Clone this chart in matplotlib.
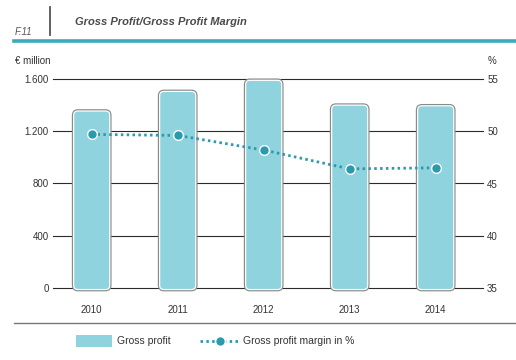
import matplotlib
matplotlib.use("Agg")
import matplotlib.pyplot as plt
from matplotlib.patches import FancyBboxPatch, Rectangle
from matplotlib.lines import Line2D
import matplotlib.patheffects as pe

plt.rcParams['font.family'] = ['Liberation Sans', 'DejaVu Sans']

years = ["2010", "2011", "2012", "2013", "2014"]
gross_profit = [1355, 1505, 1590, 1400, 1395]
gross_margin = [49.7, 49.6, 48.2, 46.4, 46.5]
left_ticks = [0, 400, 800, 1200, 1600]
left_labels = ["0", "400", "800", "1.200", "1.600"]
right_ticks = [35, 40, 45, 50, 55]

BAR = '#8fd3df'
TEAL = '#2a9bad'
TXT = '#333333'

fig = plt.figure(figsize=(5.16, 3.6), dpi=100)
W, H = 516, 360
ax = fig.add_axes([53 / W, 72 / H, 430 / W, 209 / H])
x = list(range(len(years)))
ax.set_xlim(-0.45, 4.55)
ax.set_ylim(0, 1600)

for t in left_ticks:
    ax.axhline(t, color='#2b2b2b', lw=0.8, zorder=0, clip_on=False)

bars = ax.bar(x, gross_profit, width=0.42, color='none', edgecolor='none')
fig.canvas.draw()
p0 = ax.transData.transform((0, 0))
p1 = ax.transData.transform((1, 1))
aspect = (p1[0] - p0[0]) / (p1[1] - p0[1])
for b in bars:
    fb = FancyBboxPatch((b.get_x(), b.get_y() - 12), b.get_width(), b.get_height() + 12,
                        boxstyle="round,pad=0,rounding_size=0.05",
                        mutation_aspect=aspect,
                        facecolor=BAR, edgecolor='white', lw=0.9, zorder=2, clip_on=False,
                        path_effects=[pe.Stroke(linewidth=2.6, foreground='#8a8a8a'), pe.Normal()])
    ax.add_patch(fb)
    b.remove()

ax.set_yticks(left_ticks)
ax.set_yticklabels(left_labels)
ax.set_xticks(x)
ax.set_xticklabels(years)
ax.tick_params(axis='y', length=0, pad=3, labelsize=7, labelcolor=TXT)
ax.tick_params(axis='x', length=0, pad=12, labelsize=7, labelcolor=TXT)
for s in ax.spines.values():
    s.set_visible(False)

ax2 = ax.twinx()
ax2.set_ylim(35, 55)
ax2.set_yticks(right_ticks)
ax2.tick_params(axis='y', length=0, pad=3, labelsize=7, labelcolor=TXT)
for s in ax2.spines.values():
    s.set_visible(False)
ax2.plot(x, gross_margin, color=TEAL, lw=2.0, linestyle=(0, (0.9, 1.2)),
         marker='o', markersize=7, markerfacecolor=TEAL, markeredgecolor='white',
         markeredgewidth=1.0, zorder=3)

# header
fig.text(75 / W, 1 - 22 / H, "Gross Profit/Gross Profit Margin", fontsize=8,
         fontweight='bold', fontstyle='italic', color='#4a4a4a', va='center', ha='left')
fig.text(15 / W, 1 - 32 / H, "F.11", fontsize=7, fontstyle='italic', color='#555555',
         va='center', ha='left')
fig.add_artist(Line2D([50 / W, 50 / W], [1 - 7 / H, 1 - 35 / H], color='#555555', lw=1.3))
fig.add_artist(Line2D([14 / W, 1.0], [1 - 41 / H, 1 - 41 / H], color='#3aaabb', lw=2.6))
fig.text(15 / W, 1 - 61 / H, "€ million", fontsize=7, color=TXT, va='center', ha='left')
fig.text(492 / W, 1 - 61 / H, "%", fontsize=7, color=TXT, va='center', ha='center')

# bottom rule & legend
fig.add_artist(Line2D([14 / W, 1.0], [1 - 323 / H, 1 - 323 / H], color='#777777', lw=1.0))
fig.add_artist(Rectangle((76 / W, 1 - 347 / H), 36 / W, 12 / H, facecolor=BAR, edgecolor='none'))
fig.text(117 / W, 1 - 341 / H, "Gross profit", fontsize=7.5, color=TXT, va='center', ha='left')
fig.add_artist(Line2D([200 / W, 240 / W], [1 - 341 / H, 1 - 341 / H], color=TEAL, lw=2.0,
                      linestyle=(0, (0.9, 1.2))))
fig.add_artist(Line2D([220 / W], [1 - 341 / H], marker='o', markersize=7, markerfacecolor=TEAL,
                      markeredgecolor='white', markeredgewidth=1.0))
fig.text(243 / W, 1 - 341 / H, "Gross profit margin in %", fontsize=7.5, color=TXT,
         va='center', ha='left')

fig.savefig("out.png", dpi=100)
